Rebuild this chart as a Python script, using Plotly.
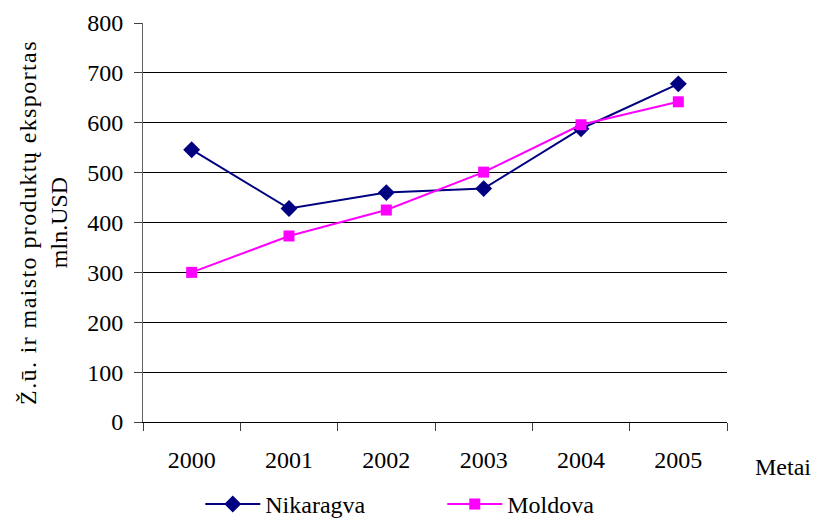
import plotly.graph_objects as go

years = ["2000", "2001", "2002", "2003", "2004", "2005"]
nikaragva = [546, 428, 460, 468, 588, 678]
moldova = [300, 373, 425, 501, 596, 642]
y_ticks = [0, 100, 200, 300, 400, 500, 600, 700, 800]

FONT = "Liberation Serif"
FS = 24

fig = go.Figure()
fig.add_trace(go.Scatter(
    x=years, y=nikaragva, name="Nikaragva", mode="lines+markers",
    line=dict(color="#000080", width=2),
    marker=dict(symbol="diamond", size=13, color="#000080"),
))
fig.add_trace(go.Scatter(
    x=years, y=moldova, name="Moldova", mode="lines+markers",
    line=dict(color="#FF00FF", width=2),
    marker=dict(symbol="square", size=11, color="#FF00FF"),
))

fig.update_layout(
    width=813, height=519,
    margin=dict(l=143, r=86, t=23, b=97, autoexpand=False),
    paper_bgcolor="white", plot_bgcolor="white",
    font=dict(family=FONT, size=FS, color="black"),
    showlegend=True,
    legend=dict(
        orientation="h", xref="container", yref="container",
        x=0.544, xanchor="center", y=0.028, yanchor="middle",
        font=dict(family=FONT, size=FS, color="black"),
        itemwidth=55, entrywidth=172,
        bgcolor="rgba(0,0,0,0)",
    ),
    xaxis=dict(
        type="category", range=[-0.5, 5.5],
        tickson="boundaries", ticks="outside", ticklen=8, tickcolor="#404040",
        showline=True, linecolor="black", linewidth=1,
        showgrid=False, zeroline=False,
        tickfont=dict(family=FONT, size=FS),
        ticklabelstandoff=16,
    ),
    yaxis=dict(
        range=[0, 800], tickvals=y_ticks,
        ticks="outside", ticklen=8, tickcolor="#404040",
        showline=True, linecolor="#606060", linewidth=1,
        showgrid=True, gridcolor="black", gridwidth=1,
        zeroline=False,
        tickfont=dict(family=FONT, size=FS),
        ticklabelstandoff=6,
        title=dict(text='<span style="letter-spacing:1.4px">Ž.ū. ir maisto produktų eksportas</span><br>mln.USD',
                   font=dict(family=FONT, size=FS), standoff=12),
    ),
    annotations=[dict(
        text="Metai", xref="paper", yref="paper",
        x=(783 - 143) / 584, y=(422 - 467) / 399,
        xanchor="center", yanchor="middle", showarrow=False,
        font=dict(family=FONT, size=FS),
    )],
)

fig.write_html("out.html", config={"displayModeBar": False},
               post_script="document.body.style.margin='0';document.body.style.padding='0';")
